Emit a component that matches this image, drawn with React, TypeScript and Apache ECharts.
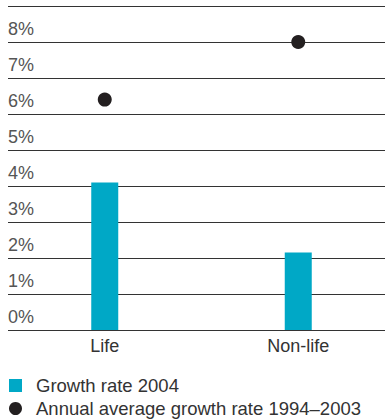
import React, { useEffect, useRef } from "react";
import * as echarts from "echarts";

const categories = ["Life", "Non-life"];
const growth2004 = [4.1, 2.15];
const avgGrowth = [6.4, 8.0];
const yTicks = [0, 1, 2, 3, 4, 5, 6, 7, 8, 9];
const seriesNames = ["Growth rate 2004", "Annual average growth rate 1994\u20132003"];

export default function App() {
  const ref = useRef<HTMLDivElement>(null);
  useEffect(() => {
    if (!ref.current) return;
    const chart = echarts.init(ref.current, null, { renderer: "svg" });
    const font = "'Liberation Sans', Arial, Helvetica, sans-serif";
    chart.setOption({
      animation: false,
      textStyle: { fontFamily: font },
      grid: { left: 8, right: 0, top: 6, bottom: 89, containLabel: false },
      xAxis: {
        type: "category",
        data: categories,
        axisLine: { show: false },
        axisTick: { show: false },
        axisLabel: { color: "#333", fontSize: 18, fontFamily: font, margin: 7 },
      },
      yAxis: {
        type: "value",
        min: yTicks[0],
        max: yTicks[yTicks.length - 1],
        interval: 1,
        axisLine: { show: false },
        axisTick: { show: false },
        splitLine: { show: true, lineStyle: { color: "#333", width: 1 } },
        axisLabel: {
          inside: true,
          align: "left",
          verticalAlign: "bottom",
          margin: 0,
          padding: [0, 0, 4, 0],
          color: "#555",
          fontSize: 18,
          fontFamily: font,
          formatter: (v: number) => (v === 9 ? "" : v + "%"),
        },
      },
      legend: {
        orient: "vertical",
        left: 9,
        top: 376,
        padding: 0,
        itemWidth: 13,
        itemHeight: 13,
        itemGap: 4,
        textStyle: { color: "#333", fontSize: 18.5, fontFamily: font, lineHeight: 18, padding: [0, 0, 0, 9] },
        data: [
          { name: seriesNames[0], icon: "rect" },
          { name: seriesNames[1], icon: "circle" },
        ],
      },
      series: [
        {
          name: seriesNames[0],
          type: "bar",
          data: growth2004,
          barWidth: 27,
          itemStyle: { color: "#00a8c6" },
        },
        {
          name: seriesNames[1],
          type: "scatter",
          data: avgGrowth,
          symbol: "circle",
          symbolSize: 14,
          itemStyle: { color: "#231f20", opacity: 1 },
          z: 5,
        },
      ],
    });
    return () => chart.dispose();
  }, []);
  return (
    <div style={{ position: "absolute", left: 0, top: 0, width: 385, height: 419, overflow: "hidden" }}>
      <div ref={ref} style={{ width: 395, height: 419 }} />
    </div>
  );
}
